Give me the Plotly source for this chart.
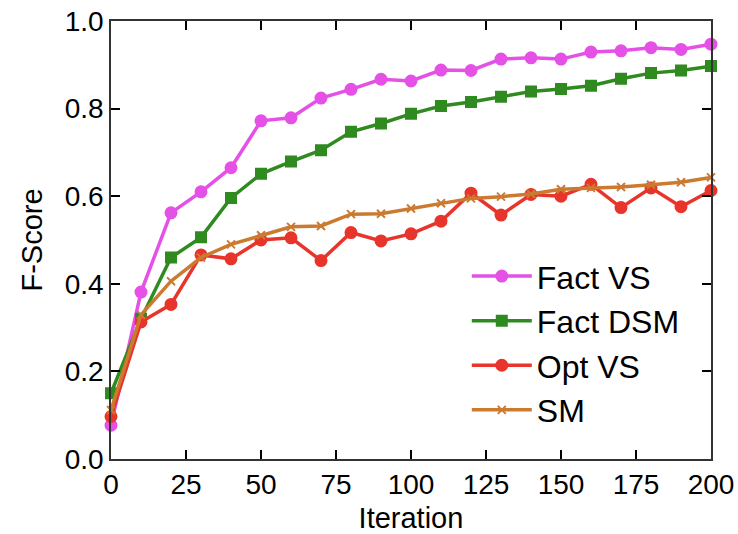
import plotly.graph_objects as go

iterations = [0, 10, 20, 30, 40, 50, 60, 70, 80, 90, 100, 110, 120, 130, 140, 150, 160, 170, 180, 190, 200]
fact_vs = [0.077, 0.381, 0.562, 0.610, 0.665, 0.772, 0.779, 0.824, 0.844, 0.867, 0.863, 0.888, 0.887, 0.913, 0.916, 0.913, 0.929, 0.932, 0.939, 0.935, 0.947]
fact_dsm = [0.150, 0.320, 0.460, 0.506, 0.596, 0.651, 0.679, 0.705, 0.747, 0.766, 0.788, 0.806, 0.815, 0.827, 0.839, 0.845, 0.852, 0.868, 0.881, 0.887, 0.897]
opt_vs = [0.097, 0.313, 0.353, 0.466, 0.457, 0.500, 0.505, 0.453, 0.517, 0.498, 0.514, 0.543, 0.607, 0.557, 0.604, 0.600, 0.627, 0.574, 0.619, 0.576, 0.613]
sm = [0.112, 0.329, 0.406, 0.460, 0.490, 0.511, 0.530, 0.532, 0.559, 0.560, 0.572, 0.584, 0.595, 0.599, 0.605, 0.616, 0.619, 0.621, 0.626, 0.632, 0.643]

x_ticks = [0, 25, 50, 75, 100, 125, 150, 175, 200]
y_ticks = [0.0, 0.2, 0.4, 0.6, 0.8, 1.0]
y_tick_labels = ["0.0", "0.2", "0.4", "0.6", "0.8", "1.0"]

series = [
    ("Fact VS", fact_vs, "#E551E6", "circle", 11),
    ("Fact DSM", fact_dsm, "#2F8A20", "square", 10),
    ("Opt VS", opt_vs, "#E8352B", "circle", 11),
    ("SM", sm, "#CC7A30", "x-thin-open", 8),
]

fig = go.Figure()
for name, vals, color, sym, size in series:
    fig.add_trace(go.Scatter(
        x=iterations, y=vals, name=name, mode="lines+markers",
        line=dict(color=color, width=3.5),
        marker=dict(symbol=sym, size=size, color=color, line=dict(color=color, width=2)),
        cliponaxis=False,
    ))

fam = "Liberation Sans, Arial, sans-serif"
fig.update_layout(
    width=738, height=534,
    margin=dict(l=111, r=27, t=21, b=75),
    paper_bgcolor="white", plot_bgcolor="white",
    showlegend=True,
    legend=dict(x=0.593, y=0.48, xanchor="left", yanchor="top",
                font=dict(family=fam, size=32, color="black"),
                bgcolor="rgba(0,0,0,0)", tracegroupgap=0, itemwidth=60),
    font=dict(family=fam, color="black"),
)
fig.update_xaxes(
    range=[0, 200], tickvals=x_ticks, ticks="inside", ticklen=9, tickwidth=1.5,
    tickcolor="black", showline=True, linecolor="#333", linewidth=1.5, mirror="ticks",
    showgrid=False, zeroline=False, tickfont=dict(size=28, family=fam), automargin=False,
    title=dict(text="Iteration", font=dict(size=29, family=fam), standoff=8),
)
fig.update_yaxes(
    range=[0, 1], tickvals=y_ticks, ticktext=y_tick_labels, ticks="inside", ticklen=9, tickwidth=1.5,
    tickcolor="black", showline=True, linecolor="#333", linewidth=1.5, mirror="ticks",
    showgrid=False, zeroline=False, tickfont=dict(size=28, family=fam), automargin=False,
    title=dict(text="F-Score", font=dict(size=29, family=fam), standoff=14),
)

fig.write_html("out.html")
